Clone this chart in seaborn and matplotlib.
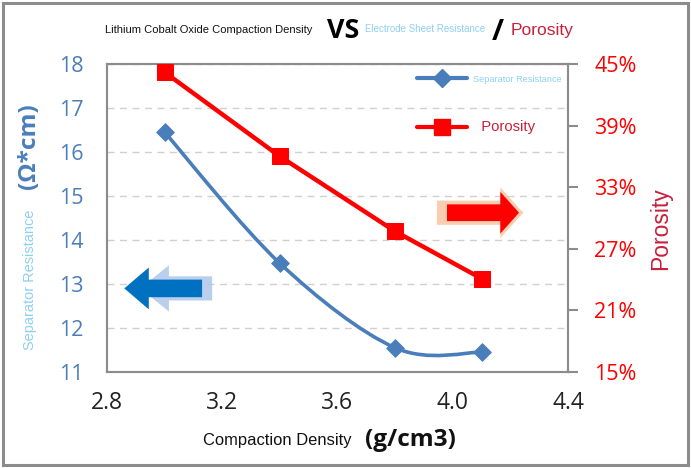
import numpy as np
import pandas as pd
import matplotlib
matplotlib.use('Agg')
import matplotlib.pyplot as plt
import matplotlib.patches as mpatches
from matplotlib.path import Path
from matplotlib.lines import Line2D
import seaborn as sns

# data
density = [3.0, 3.4, 3.8, 4.1]
resistance = [16.45, 13.47, 11.55, 11.45]
porosity = [44.2, 36.0, 28.7, 24.1]

left_ticks = list(range(11, 19))
right_ticks = [15, 21, 27, 33, 39, 45]
x_ticks = [2.8, 3.2, 3.6, 4.0, 4.4]

BLUE = '#4A7EBB'
LIGHT_BLUE = '#8FD0F0'
RED = '#FF0000'
CRIMSON = '#C8203C'
GRAY = '#8C8C8C'

df = pd.DataFrame({'density': density, 'resistance': resistance, 'porosity': porosity})

sns.set_theme(style='white')
plt.rcParams['font.family'] = ['Open Sans', 'DejaVu Sans']

W, H = 691, 468
fig = plt.figure(figsize=(W / 100, H / 100), dpi=100)

def px(x):
    return x / W

def py(y):
    return 1 - y / H

ax = fig.add_axes([px(107), py(372), px(568) - px(107), py(64) - py(372)])
ax2 = ax.twinx()

# smooth blue curve (catmull-rom as bezier path)
pts = np.column_stack([density, resistance])
ext = np.vstack([pts[0], pts, pts[-1]])
verts = [tuple(pts[0])]
codes = [Path.MOVETO]
for i in range(len(pts) - 1):
    p0, p1, p2, p3 = ext[i], ext[i + 1], ext[i + 2], ext[i + 3]
    c1 = p1 + (p2 - p0) / 6
    c2 = p2 - (p3 - p1) / 6
    verts += [tuple(c1), tuple(c2), tuple(p2)]
    codes += [Path.CURVE4] * 3
ax.add_patch(mpatches.PathPatch(Path(verts, codes), facecolor='none',
                                edgecolor=BLUE, lw=2.6, zorder=3))
sns.scatterplot(data=df, x='density', y='resistance', ax=ax, marker='D', s=80,
                color=BLUE, edgecolor=BLUE, zorder=4, legend=False)

sns.lineplot(data=df, x='density', y='porosity', ax=ax2, color=RED, lw=3.2,
             marker='s', markersize=12, markeredgecolor=RED, zorder=4, legend=False)

ax.set_xlim(2.8, 4.4)
ax.set_ylim(11, 18)
ax2.set_ylim(15, 45)
ax.set_xticks(x_ticks)
ax.set_xticklabels([f'{v:.1f}' for v in x_ticks])
ax.set_yticks(left_ticks)
ax2.set_yticks(right_ticks)
ax2.set_yticklabels([f'{v}%' for v in right_ticks])
ax.set_xlabel('')
ax.set_ylabel('')
ax2.set_ylabel('')

ax.yaxis.grid(True, linestyle=(0, (5, 4)), color='#D0D0D0', lw=1)
ax.xaxis.grid(False)
ax.tick_params(axis='y', length=0, pad=17, labelsize=15.5, labelcolor=BLUE)
ax.tick_params(axis='x', length=0, pad=14, labelsize=16.5, labelcolor='#222222')
ax2.tick_params(axis='y', length=7, width=1.5, color=GRAY, direction='out',
                pad=12, labelsize=15.5, labelcolor=RED)
for a in (ax, ax2):
    for s in a.spines.values():
        s.set_color(GRAY)
        s.set_linewidth(1.5)

# direction arrows
ax.add_patch(mpatches.FancyArrow(3.165, 12.9, -0.25, 0, width=0.55, head_width=1.05,
                                 head_length=0.1, length_includes_head=True,
                                 color='#A8C4E6', alpha=0.8, lw=0, zorder=2))
ax.add_patch(mpatches.FancyArrow(3.13, 12.9, -0.27, 0, width=0.4, head_width=0.95,
                                 head_length=0.085, length_includes_head=True,
                                 color='#0070C0', lw=0, zorder=2))
ax.add_patch(mpatches.FancyArrow(3.945, 14.62, 0.3, 0, width=0.55, head_width=1.15,
                                 head_length=0.08, length_includes_head=True,
                                 color='#F8C8A8', alpha=0.9, lw=0, zorder=2))
ax.add_patch(mpatches.FancyArrow(3.98, 14.62, 0.25, 0, width=0.38, head_width=0.95,
                                 head_length=0.065, length_includes_head=True,
                                 color=RED, lw=0, zorder=2))

# legend
handles = [Line2D([], [], color=BLUE, lw=3, marker='D', markersize=9),
           Line2D([], [], color=RED, lw=3, marker='s', markersize=11)]
leg = ax2.legend(handles, ['Separator Resistance', '  Porosity'], loc='upper left',
                 bbox_to_anchor=((413 - 107) / 461, 1 - (70 - 64) / 308),
                 frameon=False, fontsize=8, handlelength=4.5, labelspacing=3.2,
                 handletextpad=0.5, borderaxespad=0)
for t in leg.get_texts():
    t.set_family('Liberation Sans')
leg.get_texts()[0].set_color(LIGHT_BLUE)
leg.get_texts()[1].set_color(CRIMSON)

# title pieces
t_lco = fig.text(px(105), py(30), 'Lithium Cobalt Oxide Compaction Density',
                 color='#111111', va='center', ha='left', family='Liberation Sans')
t_vs = fig.text(px(327), py(31), 'VS', fontweight='bold', color='black',
                va='center', ha='left')
t_esr = fig.text(px(365), py(29), 'Electrode Sheet Resistance',
                 color=LIGHT_BLUE, va='center', ha='left', family='Liberation Sans')
t_sl = fig.text(px(498), py(32), '/', fontsize=21, fontweight='bold', color='black',
                va='center', ha='center')
t_por = fig.text(px(511), py(30), 'Porosity', color=CRIMSON,
                 va='center', ha='left', family='Liberation Sans')

# axis labels
t_sr = fig.text(px(30), py(280), 'Separator Resistance', color=LIGHT_BLUE,
                rotation=90, va='center', ha='center', family='Liberation Sans')
t_unit = fig.text(px(29), py(146), '(Ω*cm)', fontweight='bold', color=BLUE,
                  rotation=90, va='center', ha='center')
t_por2 = fig.text(px(661), py(229), 'Porosity', color=CRIMSON,
                  rotation=90, va='center', ha='center', family='Liberation Sans')
t_cd = fig.text(px(203), py(441), 'Compaction Density', color='#111111',
                va='center', ha='left', family='Liberation Sans')
t_gcm = fig.text(px(365), py(440), '(g/cm3)', fontweight='bold', color='#111111',
                 va='center', ha='left')

# scale text sizes so each spans the length measured on the reference
targets = [(t_lco, 207), (t_vs, 32), (t_esr, 121), (t_por, 63), (t_sr, 140),
           (t_unit, 85), (t_por2, 83), (t_cd, 148), (t_gcm, 90),
           (leg.get_texts()[0], 88), (leg.get_texts()[1], 50)]
fig.canvas.draw()
renderer = fig.canvas.get_renderer()
for t, target in targets:
    bb = t.get_window_extent(renderer)
    size = max(bb.width, bb.height)
    if t is leg.get_texts()[1]:
        size = size * 8 / 10  # two leading spaces
    t.set_fontsize(t.get_fontsize() * target / size)

# outer border
fig.patches.append(mpatches.Rectangle((px(3), py(465)), px(685), py(3) - py(465),
                                      transform=fig.transFigure, fill=False,
                                      edgecolor=GRAY, lw=2.2))

fig.savefig('out.png', dpi=100)
